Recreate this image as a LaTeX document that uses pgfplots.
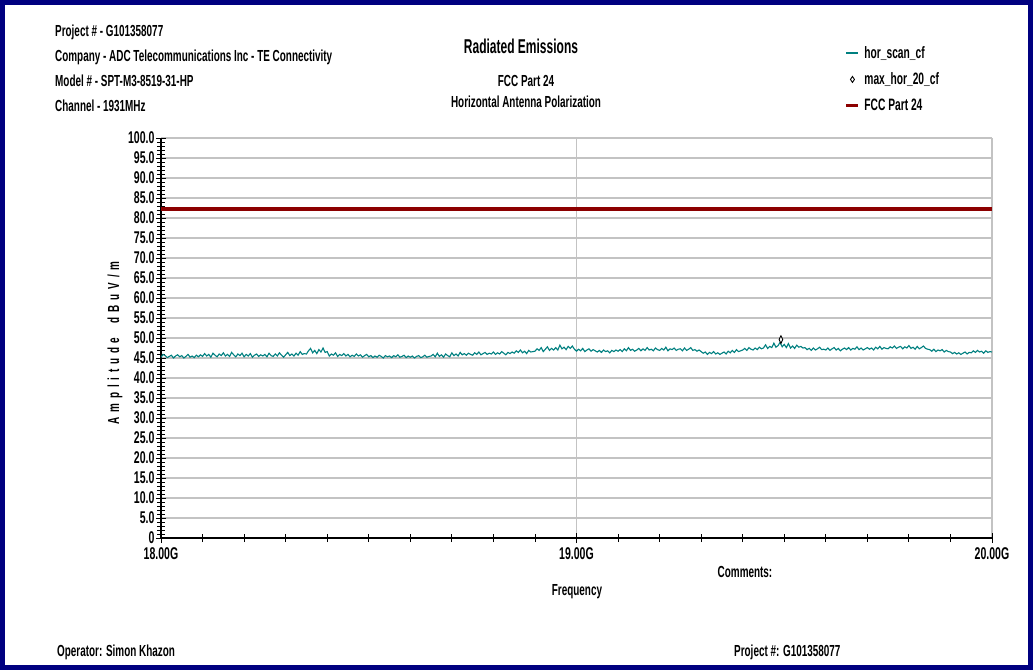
\documentclass[border=0pt]{standalone}
\usepackage{fontspec}
\setmainfont{Liberation Sans}[FakeStretch=0.62]
\newfontfamily\titlefont{Liberation Sans}[FakeStretch=0.6]
\newfontfamily\tickfont{Liberation Sans}[FakeStretch=0.62]
\usepackage{pgfplots}
\pgfplotsset{compat=1.18}
\definecolor{navyb}{RGB}{0,0,128}
\definecolor{trace}{RGB}{0,128,128}
\definecolor{fccred}{RGB}{140,0,0}
\definecolor{gridgray}{RGB}{195,195,195}
\begin{document}
\begin{tikzpicture}[x=1pt,y=1pt,font=\bfseries\fontsize{16}{19}\selectfont]
\useasboundingbox (0,0) rectangle (1033,-670);
\fill[white] (0,0) rectangle (1033,-670);
\draw[navyb, line width=5pt] (2.5,-2.5) rectangle (1030.5,-667.5);
\node[anchor=base west, inner sep=0] at (55,-36) {Project \# - G101358077};
\node[anchor=base west, inner sep=0] at (55,-61) {Company - ADC Telecommunications Inc - TE Connectivity};
\node[anchor=base west, inner sep=0] at (55,-86) {Model \# - SPT-M3-8519-31-HP};
\node[anchor=base west, inner sep=0] at (55,-111) {Channel - 1931MHz};
\node[anchor=base, inner sep=0, font=\titlefont\bfseries\fontsize{20}{24}\selectfont] at (521,-53) {Radiated Emissions};
\node[anchor=base, inner sep=0] at (526,-86) {FCC Part 24};
\node[anchor=base, inner sep=0] at (526,-107) {Horizontal Antenna Polarization};
\node[anchor=base, inner sep=0] at (577,-595) {Frequency};
\node[anchor=base, inner sep=0] at (745,-577) {Comments:};
\node[anchor=base west, inner sep=0] at (57,-656) {Operator: Simon Khazon};
\node[anchor=base west, inner sep=0] at (734,-656) {Project \#: G101358077};
\node[rotate=90, inner sep=0] at (115,-343) {\spaceskip=4.8pt plus 0pt A m p l i t u d e \ \ d B u V / m};
\begin{axis}[
  at={(161pt,-538pt)}, anchor=south west,
  width=831pt, height=400pt, scale only axis,
  xmin=18, xmax=20, ymin=0, ymax=100,
  axis x line=bottom, axis y line=left,
  axis line style={-, black, line width=1.3pt},
  xtick={18,19,20}, xticklabels={18.00G,19.00G,20.00G},
  minor x tick num=9,
  ytick={0,5,...,100},
  yticklabels={0,5.0,10.0,15.0,20.0,25.0,30.0,35.0,40.0,45.0,50.0,55.0,60.0,65.0,70.0,75.0,80.0,85.0,90.0,95.0,100.0},
  minor y tick num=4,
  tick align=center,
  major tick length=10pt, minor tick length=8pt,
  tick style={black, line width=0.9pt},
  grid=major, major grid style={gridgray, line width=1.1pt},
  xticklabel style={font=\tickfont\bfseries\fontsize{17}{19}\selectfont, yshift=-1pt},
  yticklabel style={font=\tickfont\bfseries\fontsize{17}{19}\selectfont, xshift=2pt},
  legend style={at={(axis description cs:0.8225,1.235)}, anchor=north west, draw=none, fill=none,
    font=\bfseries\fontsize{16.5}{19}\selectfont, row sep=9pt, inner sep=0pt},
  legend cell align=left,
  clip=false,
]
\addplot[trace, line width=1.1pt, mark=none, legend image code/.code={\draw[trace, line width=1.8pt] (0pt,0pt) -- (12pt,0pt); \path[draw=none,fill=none] (0pt,-5pt) rectangle (16pt,5pt);}] coordinates {
(18.000,45.2)(18.005,45.9)(18.010,45.6)(18.015,45.1)(18.020,45.4)(18.025,45.7)(18.030,45.0)(18.035,45.5)(18.040,45.8)(18.045,45.3)
(18.050,45.6)(18.055,45.0)(18.060,45.4)(18.065,45.9)(18.070,45.2)(18.075,45.5)(18.080,45.1)(18.085,45.7)(18.090,45.3)(18.095,45.8)
(18.100,45.4)(18.105,46.1)(18.110,45.5)(18.115,45.9)(18.120,45.2)(18.125,46.2)(18.130,45.7)(18.135,45.3)(18.140,46.0)(18.145,45.6)
(18.150,46.3)(18.155,45.5)(18.160,45.9)(18.165,45.4)(18.170,46.4)(18.175,45.8)(18.180,45.3)(18.185,46.0)(18.190,45.6)(18.195,46.2)
(18.200,45.3)(18.205,45.9)(18.210,45.5)(18.215,46.1)(18.220,45.2)(18.225,45.7)(18.230,46.0)(18.235,45.4)(18.240,45.8)(18.245,45.5)
(18.250,45.9)(18.255,45.3)(18.260,46.2)(18.265,45.6)(18.270,45.4)(18.275,46.0)(18.280,45.5)(18.285,46.3)(18.290,45.7)(18.295,45.2)
(18.300,45.8)(18.305,46.4)(18.310,45.6)(18.315,46.0)(18.320,45.5)(18.325,46.2)(18.330,45.7)(18.335,46.6)(18.340,45.9)(18.345,46.1)
(18.350,46.0)(18.355,46.8)(18.360,47.4)(18.365,46.3)(18.370,46.9)(18.375,46.1)(18.380,47.1)(18.385,46.5)(18.390,47.5)(18.395,46.4)
(18.400,46.6)(18.405,45.5)(18.410,46.0)(18.415,45.7)(18.420,46.3)(18.425,45.4)(18.430,45.9)(18.435,45.6)(18.440,46.1)(18.445,45.5)
(18.450,45.9)(18.455,45.3)(18.460,45.7)(18.465,45.4)(18.470,46.0)(18.475,45.5)(18.480,45.8)(18.485,45.2)(18.490,45.6)(18.495,45.9)
(18.500,45.3)(18.505,45.6)(18.510,45.1)(18.515,45.5)(18.520,45.2)(18.525,45.7)(18.530,45.4)(18.535,45.0)(18.540,45.6)(18.545,45.3)
(18.550,45.5)(18.555,45.1)(18.560,45.6)(18.565,45.3)(18.570,45.8)(18.575,45.2)(18.580,45.4)(18.585,45.7)(18.590,45.1)(18.595,45.5)
(18.600,45.2)(18.605,45.5)(18.610,45.0)(18.615,45.4)(18.620,45.6)(18.625,45.1)(18.630,45.3)(18.635,45.7)(18.640,45.2)(18.645,45.4)
(18.650,45.5)(18.655,45.9)(18.660,45.3)(18.665,46.2)(18.670,45.4)(18.675,45.8)(18.680,45.2)(18.685,46.0)(18.690,45.6)(18.695,45.3)
(18.700,46.3)(18.705,45.6)(18.710,46.0)(18.715,45.5)(18.720,46.4)(18.725,45.8)(18.730,46.1)(18.735,45.7)(18.740,46.2)(18.745,45.9)
(18.750,45.7)(18.755,46.3)(18.760,45.9)(18.765,46.5)(18.770,45.8)(18.775,46.1)(18.780,46.4)(18.785,45.9)(18.790,46.2)(18.795,46.0)
(18.800,46.5)(18.805,45.9)(18.810,46.3)(18.815,46.0)(18.820,46.6)(18.825,46.2)(18.830,45.8)(18.835,46.4)(18.840,46.1)(18.845,46.5)
(18.850,46.2)(18.855,46.8)(18.860,46.4)(18.865,47.0)(18.870,46.3)(18.875,46.7)(18.880,46.1)(18.885,46.9)(18.890,46.5)(18.895,46.6)
(18.900,46.7)(18.905,47.3)(18.910,46.9)(18.915,47.6)(18.920,46.6)(18.925,47.2)(18.930,47.8)(18.935,46.9)(18.940,47.4)(18.945,47.0)
(18.950,47.6)(18.955,47.0)(18.960,48.2)(18.965,47.3)(18.970,47.7)(18.975,47.1)(18.980,47.9)(18.985,47.4)(18.990,48.0)(18.995,47.2)
(19.000,46.7)(19.005,47.2)(19.010,46.8)(19.015,47.4)(19.020,46.6)(19.025,47.0)(19.030,47.3)(19.035,46.7)(19.040,47.1)(19.045,46.8)
(19.050,46.5)(19.055,46.9)(19.060,46.4)(19.065,47.0)(19.070,46.6)(19.075,46.8)(19.080,46.3)(19.085,46.9)(19.090,46.6)(19.095,47.0)
(19.100,46.7)(19.105,47.1)(19.110,46.6)(19.115,47.3)(19.120,46.8)(19.125,47.6)(19.130,46.9)(19.135,47.2)(19.140,46.7)(19.145,47.0)
(19.150,47.4)(19.155,46.8)(19.160,47.3)(19.165,46.9)(19.170,47.6)(19.175,47.0)(19.180,47.2)(19.185,46.8)(19.190,47.5)(19.195,47.1)
(19.200,46.9)(19.205,47.4)(19.210,47.0)(19.215,47.7)(19.220,46.8)(19.225,47.3)(19.230,47.1)(19.235,47.5)(19.240,46.9)(19.245,47.2)
(19.250,47.3)(19.255,46.8)(19.260,47.5)(19.265,46.9)(19.270,47.2)(19.275,47.6)(19.280,46.9)(19.285,47.1)(19.290,46.7)(19.295,47.0)
(19.300,46.6)(19.305,46.2)(19.310,46.5)(19.315,45.9)(19.320,46.4)(19.325,46.1)(19.330,46.6)(19.335,46.0)(19.340,46.3)(19.345,45.9)
(19.350,46.2)(19.355,46.5)(19.360,46.0)(19.365,46.7)(19.370,46.3)(19.375,46.9)(19.380,46.4)(19.385,47.1)(19.390,46.6)(19.395,46.8)
(19.400,47.0)(19.405,47.4)(19.410,46.9)(19.415,47.6)(19.420,47.2)(19.425,47.0)(19.430,47.5)(19.435,47.1)(19.440,47.7)(19.445,47.3)
(19.450,47.5)(19.455,48.3)(19.460,47.4)(19.465,47.9)(19.470,47.6)(19.475,48.7)(19.480,47.7)(19.485,48.1)(19.490,48.9)(19.495,47.8)
(19.500,48.4)(19.505,47.6)(19.510,48.6)(19.515,47.5)(19.520,48.0)(19.525,47.4)(19.530,48.2)(19.535,47.7)(19.540,47.9)(19.545,47.5)
(19.550,47.6)(19.555,47.1)(19.560,47.4)(19.565,46.9)(19.570,47.5)(19.575,47.0)(19.580,47.3)(19.585,47.7)(19.590,47.1)(19.595,47.2)
(19.600,47.0)(19.605,47.5)(19.610,46.9)(19.615,47.3)(19.620,47.6)(19.625,47.0)(19.630,47.4)(19.635,46.8)(19.640,47.2)(19.645,47.5)
(19.650,47.1)(19.655,47.6)(19.660,47.0)(19.665,47.4)(19.670,47.2)(19.675,47.8)(19.680,47.1)(19.685,47.5)(19.690,47.0)(19.695,47.3)
(19.700,47.6)(19.705,47.2)(19.710,47.5)(19.715,47.0)(19.720,47.7)(19.725,47.3)(19.730,47.9)(19.735,47.2)(19.740,47.6)(19.745,47.4)
(19.750,47.3)(19.755,47.8)(19.760,47.5)(19.765,48.0)(19.770,47.4)(19.775,47.7)(19.780,47.9)(19.785,47.3)(19.790,47.8)(19.795,47.5)
(19.800,48.1)(19.805,47.4)(19.810,47.7)(19.815,47.2)(19.820,47.9)(19.825,47.3)(19.830,47.6)(19.835,48.0)(19.840,47.4)(19.845,47.2)
(19.850,47.1)(19.855,46.7)(19.860,47.2)(19.865,46.6)(19.870,47.0)(19.875,46.8)(19.880,47.1)(19.885,46.5)(19.890,46.9)(19.895,46.6)
(19.900,46.5)(19.905,46.1)(19.910,46.4)(19.915,46.0)(19.920,46.3)(19.925,45.9)(19.930,46.2)(19.935,46.5)(19.940,46.0)(19.945,46.4)
(19.950,46.3)(19.955,46.8)(19.960,46.4)(19.965,46.9)(19.970,46.5)(19.975,46.7)(19.980,46.2)(19.985,46.8)(19.990,46.4)(19.995,46.6)
(20.000,46.5)
};
\addlegendentry{hor\_scan\_cf}
\addplot[only marks, mark=diamond*, mark size=3.8pt, mark options={fill=white, draw=black, line width=0.9pt, xscale=0.65},
  legend image code/.code={\draw[black, fill=white, line width=0.9pt] (6pt,3pt) -- (8pt,0pt) -- (6pt,-3pt) -- (4pt,0pt) -- cycle; \path[draw=none,fill=none] (0pt,-5pt) rectangle (16pt,5pt);}] coordinates {(19.492,49.6)};
\addlegendentry{max\_hor\_20\_cf}
\addplot[fccred, line width=4pt, mark=none, legend image code/.code={\draw[fccred, line width=3.5pt] (0pt,0pt) -- (12pt,0pt); \path[draw=none,fill=none] (0pt,-5pt) rectangle (16pt,5pt);}] coordinates {(18,82.2) (20,82.2)};
\addlegendentry{FCC Part 24}
\end{axis}
\end{tikzpicture}
\end{document}
